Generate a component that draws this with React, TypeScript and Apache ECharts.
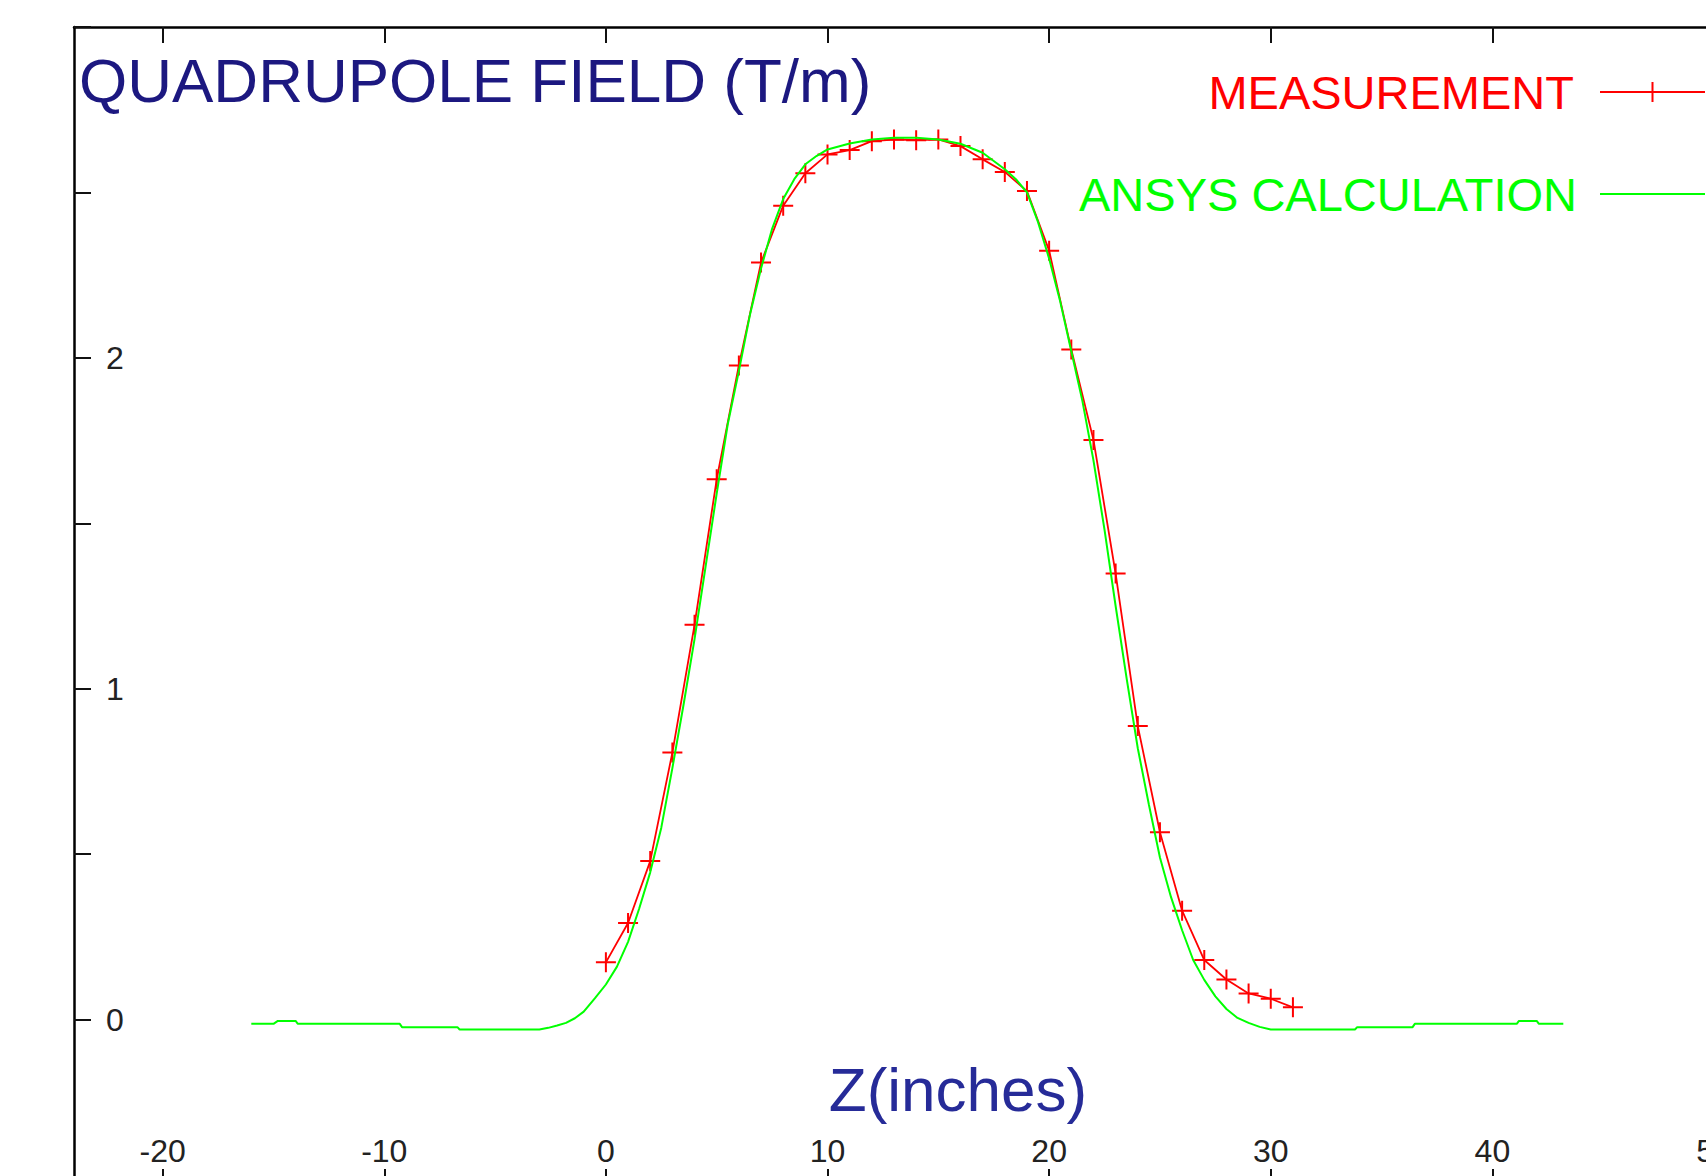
import React, { useEffect, useRef } from 'react';
import * as echarts from 'echarts';

// Measurement (red, "+" markers)
const measX = [0, 1, 2, 3, 4, 5, 6, 7, 8, 9, 10, 11, 12, 13, 14, 15, 16, 17, 18, 19, 20, 21, 22, 23, 24, 25, 26, 27, 28, 29, 30, 31];
const measY = [0.173, 0.292, 0.479, 0.807, 1.193, 1.633, 1.977, 2.288, 2.46, 2.558, 2.615, 2.628, 2.655, 2.66, 2.658, 2.66, 2.64, 2.6, 2.562, 2.504, 2.324, 2.025, 1.752, 1.348, 0.887, 0.566, 0.329, 0.18, 0.121, 0.079, 0.063, 0.037];

// ANSYS calculation (green line)
const ansysX = [-16, -15, -14.8, -14.0, -13.9, -9.3, -9.2, -6.7, -6.6, -3, -2.6, -2.2, -1.8, -1.4, -1.0, -0.5, 0, 0.5, 1, 1.5, 2, 2.5, 3, 3.5, 4, 4.5, 5, 5.5, 6, 6.5, 7, 7.5, 8, 8.5, 9, 9.5, 10, 11, 12, 13, 14, 15, 16, 17, 17.5, 18, 18.5, 19, 19.5, 20, 20.5, 21, 21.5, 22, 22.5, 23, 23.5, 24, 24.5, 25, 25.5, 26, 26.5, 27, 27.5, 28, 28.5, 29, 29.5, 30, 33.8, 33.9, 36.4, 36.5, 41.1, 41.2, 42.0, 42.1, 43.2];
const ansysY = [-0.013, -0.013, -0.004, -0.004, -0.013, -0.013, -0.023, -0.023, -0.03, -0.03, -0.025, -0.018, -0.01, 0.004, 0.024, 0.064, 0.106, 0.16, 0.235, 0.335, 0.445, 0.58, 0.76, 0.95, 1.15, 1.37, 1.59, 1.8, 1.96, 2.13, 2.27, 2.39, 2.48, 2.54, 2.585, 2.61, 2.63, 2.648, 2.66, 2.665, 2.665, 2.66, 2.647, 2.62, 2.595, 2.57, 2.54, 2.5, 2.41, 2.3, 2.17, 2.02, 1.87, 1.69, 1.48, 1.25, 1.03, 0.82, 0.65, 0.49, 0.37, 0.27, 0.18, 0.12, 0.07, 0.032, 0.005, -0.01, -0.022, -0.03, -0.03, -0.023, -0.023, -0.013, -0.013, -0.004, -0.004, -0.013, -0.013];

const xTickValues = [-20, -10, 0, 10, 20, 30, 40, 50];
const yLabelValues = [0, 1, 2];

const FONT = 'Liberation Sans';
const AXIS_COLOR = '#000000';

export default function App() {
  const ref = useRef<HTMLDivElement>(null);

  useEffect(() => {
    if (!ref.current) return;
    const chart = echarts.init(ref.current, null, { renderer: 'svg' });

    const axisLine = { show: true, onZero: false, lineStyle: { color: AXIS_COLOR, width: 2.5 } };
    const tickLine = { color: '#111111', width: 2 };

    chart.setOption({
      animation: false,
      backgroundColor: '#ffffff',
      title: {
        text: 'QUADRUPOLE FIELD (T/m)',
        left: 79,
        top: 49,
        padding: 0,
        textStyle: { fontFamily: FONT, fontSize: 62, fontWeight: 'normal', color: '#1c1880', lineHeight: 62 },
      },
      legend: {
        orient: 'vertical',
        right: 0,
        top: 67,
        padding: 0,
        align: 'right',
        itemWidth: 105,
        itemHeight: 25,
        itemGap: 52,
        selectedMode: false,
        textStyle: { fontFamily: FONT, fontSize: 47, lineHeight: 50 },
        data: [
          {
            name: 'MEASUREMENT',
            textStyle: { color: '#ff0000', padding: [0, 21, 0, 0] },
            itemStyle: { color: '#ff0000', borderColor: '#ff0000', borderWidth: 2 },
          },
          {
            name: 'ANSYS CALCULATION',
            textStyle: { color: '#00ff00', padding: [0, 18, 0, 0] },
            itemStyle: { color: 'rgba(0,0,0,0)', borderColor: 'rgba(0,0,0,0)', borderWidth: 0 },
          },
        ],
      },
      grid: { left: 74, top: 27, width: 1640, height: 1158, containLabel: false, outerBoundsMode: 'none' },
      xAxis: [
        {
          type: 'value',
          position: 'bottom',
          min: -24,
          max: 50,
          axisLine,
          axisTick: { show: true, inside: true, length: 16, customValues: xTickValues, lineStyle: tickLine },
          axisLabel: { inside: true, margin: 18, customValues: xTickValues, fontFamily: FONT, fontSize: 32, color: '#222222' },
          splitLine: { show: false },
        },
        {
          type: 'value',
          position: 'top',
          min: -24,
          max: 50,
          axisLine,
          axisTick: { show: true, inside: true, length: 16, customValues: xTickValues, lineStyle: tickLine },
          axisLabel: { show: false },
          splitLine: { show: false },
        },
      ],
      yAxis: [
        {
          type: 'value',
          position: 'left',
          min: -0.5,
          max: 3,
          interval: 0.5,
          axisLine,
          axisTick: { show: true, inside: true, length: 17, lineStyle: tickLine },
          axisLabel: { inside: true, margin: 32, customValues: yLabelValues, fontFamily: FONT, fontSize: 32, color: '#222222' },
          splitLine: { show: false },
        },
      ],
      graphic: [
        {
          type: 'text',
          x: 958,
          y: 1089,
          style: {
            text: 'Z(inches)',
            fontFamily: FONT,
            fontSize: 62,
            fill: '#262b98',
            align: 'center',
            verticalAlign: 'middle',
          },
        },
      ],
      series: [
        {
          name: 'MEASUREMENT',
          type: 'line',
          xAxisIndex: 0,
          yAxisIndex: 0,
          data: measX.map((x, i) => [x, measY[i]]),
          symbol: 'path://M0,10L20,10M10,0L10,20',
          symbolSize: 20,
          showSymbol: true,
          lineStyle: { color: '#ff0000', width: 1.8 },
          itemStyle: { color: '#ff0000', borderColor: '#ff0000', borderWidth: 2 },
          emphasis: { disabled: true },
          z: 2,
        },
        {
          name: 'ANSYS CALCULATION',
          type: 'line',
          xAxisIndex: 0,
          yAxisIndex: 0,
          data: ansysX.map((x, i) => [x, ansysY[i]]),
          symbol: 'none',
          lineStyle: { color: '#00ff00', width: 2 },
          itemStyle: { color: '#00ff00' },
          emphasis: { disabled: true },
          z: 3,
        },
      ],
    });

    return () => chart.dispose();
  }, []);

  return (
    <div
      ref={ref}
      style={{ position: 'fixed', left: 0, top: 0, width: 1706, height: 1176, background: '#ffffff' }}
    />
  );
}
